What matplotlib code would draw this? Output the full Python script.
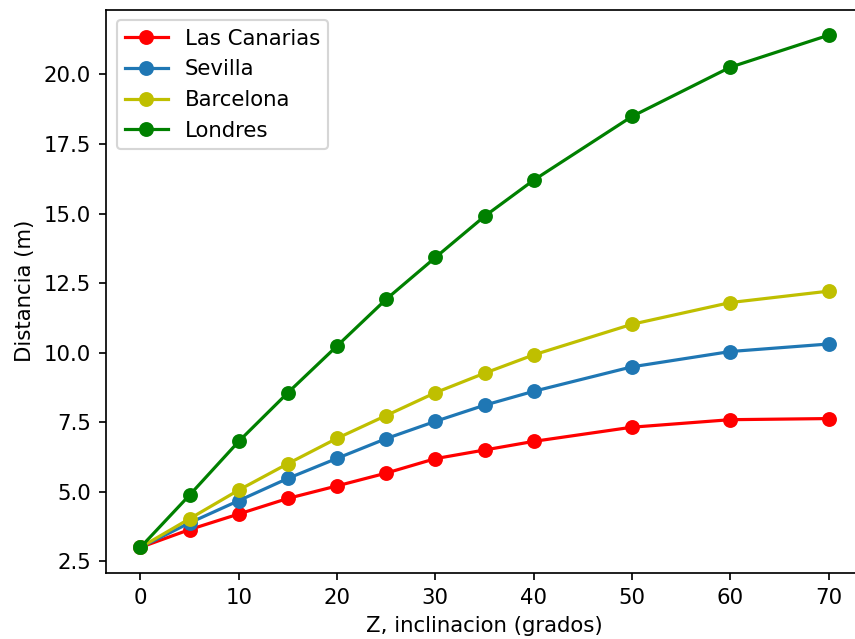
import numpy as np
import matplotlib.pyplot as plt

# angulos de inclinacion (grados)
z = [0, 5, 10, 15, 20, 25, 30, 35, 40, 50, 60, 70]

# distancia (m) por ciudad
canarias = [3.0, 3.64, 4.2, 4.76, 5.21, 5.67, 6.19, 6.5, 6.81, 7.32, 7.59, 7.63]
sevilla = [3.0, 3.88, 4.68, 5.48, 6.2, 6.91, 7.53, 8.11, 8.61, 9.49, 10.04, 10.31]
barcelona = [3.0, 4.03, 5.06, 6.01, 6.92, 7.74, 8.56, 9.26, 9.92, 11.02, 11.8, 12.21]
londres = [3.0, 4.88, 6.81, 8.56, 10.24, 11.92, 13.42, 14.9, 16.2, 18.49, 20.26, 21.41]

dpi = 153
fig = plt.figure(figsize=(855 / dpi, 639 / dpi), dpi=dpi)
# el borde derecho queda un poco fuera de la imagen, como en el original
ax = fig.add_axes([0.124, 0.1033, 0.8854, 0.8817])

ax.plot(z, canarias, marker='o', color='r', label='Las Canarias')
ax.plot(z, sevilla, marker='o', color='tab:blue', label='Sevilla')
ax.plot(z, barcelona, marker='o', color='y', label='Barcelona')
ax.plot(z, londres, marker='o', color='g', label='Londres')

ax.set_xlabel('Z, inclinacion (grados)')
ax.set_ylabel('Distancia (m)')
ax.legend(loc='upper left')

plt.savefig('out.png', dpi=dpi)
